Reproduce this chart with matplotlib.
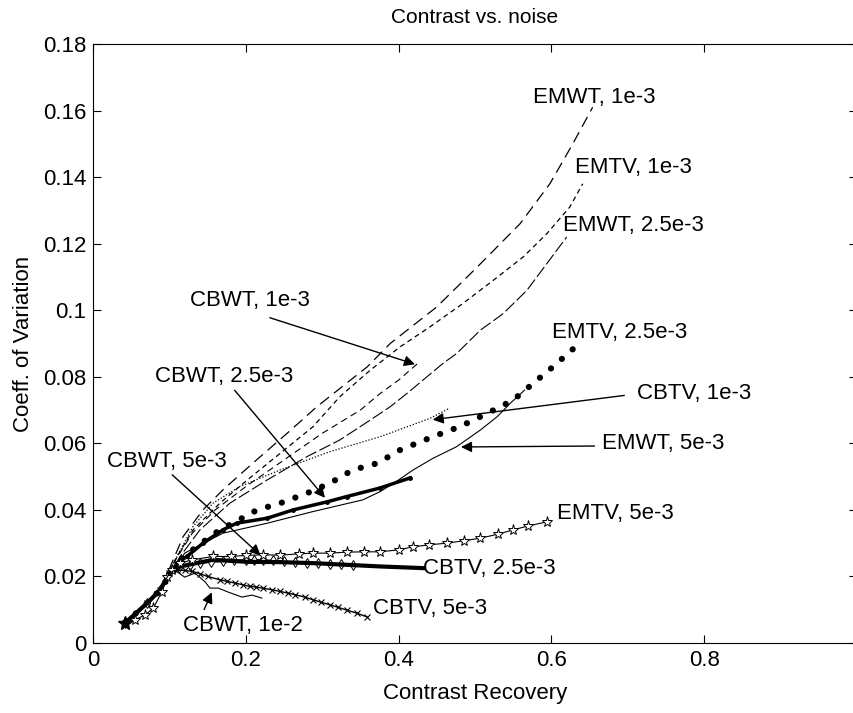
import numpy as np
import matplotlib
matplotlib.use('Agg')
import matplotlib.pyplot as plt

plt.rcParams['font.family'] = ['Liberation Sans', 'DejaVu Sans']

# curves: contrast recovery (x) vs coefficient of variation (y)
emwt_1e3_x = [0.042, 0.071, 0.088, 0.105, 0.118, 0.144, 0.170, 0.209, 0.254, 0.293, 0.359, 0.389, 0.450, 0.503, 0.559, 0.598, 0.628, 0.654]
emwt_1e3_y = [0.006, 0.012, 0.016, 0.025, 0.032, 0.040, 0.046, 0.054, 0.063, 0.071, 0.083, 0.090, 0.101, 0.113, 0.126, 0.138, 0.150, 0.161]

emtv_1e3_x = [0.042, 0.071, 0.088, 0.110, 0.131, 0.166, 0.202, 0.245, 0.288, 0.323, 0.363, 0.402, 0.441, 0.484, 0.524, 0.563, 0.594, 0.624, 0.641]
emtv_1e3_y = [0.006, 0.012, 0.016, 0.026, 0.034, 0.042, 0.049, 0.057, 0.065, 0.074, 0.082, 0.089, 0.095, 0.102, 0.109, 0.116, 0.123, 0.131, 0.138]

cbwt_1e3_x = [0.042, 0.071, 0.088, 0.108, 0.130, 0.160, 0.200, 0.250, 0.300, 0.350, 0.376, 0.400, 0.425]
cbwt_1e3_y = [0.006, 0.012, 0.016, 0.025, 0.033, 0.040, 0.047, 0.055, 0.063, 0.070, 0.075, 0.079, 0.084]

emwt_2p5e3_x = [0.042, 0.071, 0.088, 0.114, 0.140, 0.179, 0.228, 0.280, 0.323, 0.363, 0.389, 0.411, 0.458, 0.476, 0.507, 0.537, 0.568, 0.594, 0.620]
emwt_2p5e3_y = [0.006, 0.012, 0.016, 0.026, 0.034, 0.042, 0.049, 0.056, 0.061, 0.067, 0.071, 0.075, 0.084, 0.087, 0.094, 0.099, 0.106, 0.114, 0.122]

emtv_2p5e3_x = [0.042, 0.071, 0.088, 0.114, 0.136, 0.166, 0.183, 0.215, 0.245, 0.280, 0.310, 0.340, 0.372, 0.402, 0.445, 0.480, 0.516, 0.550, 0.576, 0.602, 0.634]
emtv_2p5e3_y = [0.006, 0.012, 0.016, 0.025, 0.029, 0.034, 0.036, 0.040, 0.042, 0.045, 0.048, 0.052, 0.054, 0.058, 0.062, 0.065, 0.069, 0.073, 0.078, 0.083, 0.0895]

cbtv_1e3_x = [0.042, 0.071, 0.088, 0.110, 0.131, 0.157, 0.192, 0.245, 0.310, 0.376, 0.441, 0.467]
cbtv_1e3_y = [0.006, 0.012, 0.016, 0.026, 0.035, 0.042, 0.047, 0.052, 0.0575, 0.062, 0.0675, 0.0706]

emwt_5e3_x = [0.042, 0.071, 0.088, 0.120, 0.170, 0.228, 0.288, 0.353, 0.376, 0.400, 0.419, 0.445, 0.476, 0.507, 0.529, 0.546, 0.565]
emwt_5e3_y = [0.006, 0.012, 0.016, 0.027, 0.033, 0.036, 0.0395, 0.043, 0.0455, 0.049, 0.052, 0.0555, 0.059, 0.064, 0.068, 0.072, 0.076]

cbwt_2p5e3_x = [0.042, 0.071, 0.088, 0.110, 0.123, 0.144, 0.170, 0.188, 0.228, 0.262, 0.306, 0.332, 0.376, 0.415]
cbwt_2p5e3_y = [0.006, 0.012, 0.016, 0.024, 0.026, 0.030, 0.034, 0.036, 0.0375, 0.040, 0.0424, 0.044, 0.0466, 0.0496]

emtv_5e3_x = [0.042, 0.055, 0.068, 0.079, 0.090, 0.097, 0.103, 0.114, 0.130, 0.157, 0.180, 0.200, 0.222, 0.245, 0.270, 0.288, 0.310, 0.332, 0.355, 0.376, 0.400, 0.419, 0.440, 0.463, 0.485, 0.507, 0.530, 0.550, 0.570, 0.594]
emtv_5e3_y = [0.006, 0.007, 0.0084, 0.0105, 0.0153, 0.0198, 0.022, 0.024, 0.025, 0.026, 0.026, 0.0263, 0.0265, 0.0264, 0.0268, 0.027, 0.027, 0.0273, 0.0274, 0.0274, 0.028, 0.0289, 0.0295, 0.030, 0.0307, 0.0315, 0.0327, 0.034, 0.0352, 0.0364]

cbtv_2p5e3_x = [0.042, 0.071, 0.088, 0.100, 0.114, 0.157, 0.202, 0.245, 0.288, 0.332, 0.376, 0.410, 0.432]
cbtv_2p5e3_y = [0.006, 0.012, 0.016, 0.021, 0.023, 0.025, 0.0244, 0.0243, 0.024, 0.0235, 0.023, 0.0227, 0.0225]

cbwt_5e3_x = [0.042, 0.071, 0.088, 0.100, 0.114, 0.127, 0.140, 0.155, 0.170, 0.185, 0.200, 0.211, 0.222, 0.236, 0.250, 0.265, 0.280, 0.295, 0.310, 0.325, 0.340]
cbwt_5e3_y = [0.006, 0.012, 0.016, 0.021, 0.023, 0.0235, 0.024, 0.0243, 0.0245, 0.0248, 0.025, 0.025, 0.025, 0.0248, 0.0245, 0.0243, 0.024, 0.0239, 0.0238, 0.0236, 0.0235]

cbtv_5e3_x = [0.042, 0.071, 0.088, 0.100, 0.110, 0.120, 0.130, 0.140, 0.150, 0.166, 0.176, 0.186, 0.196, 0.205, 0.214, 0.222, 0.234, 0.245, 0.255, 0.265, 0.277, 0.288, 0.299, 0.310, 0.321, 0.332, 0.345, 0.359]
cbtv_5e3_y = [0.006, 0.012, 0.016, 0.021, 0.022, 0.0218, 0.0215, 0.0208, 0.020, 0.019, 0.0185, 0.018, 0.0175, 0.017, 0.0168, 0.0165, 0.016, 0.0155, 0.015, 0.0145, 0.0138, 0.013, 0.0122, 0.0115, 0.0107, 0.0099, 0.009, 0.0078]

cbwt_1e2_x = [0.042, 0.071, 0.088, 0.100, 0.107, 0.120, 0.1335, 0.147, 0.153, 0.164, 0.177, 0.195, 0.208, 0.221]
cbwt_1e2_y = [0.006, 0.012, 0.016, 0.021, 0.0219, 0.0198, 0.0210, 0.0183, 0.0165, 0.0165, 0.0153, 0.0138, 0.0144, 0.0135]

start_x = [0.042]
start_y = [0.006]

# curve labels: text, text position, arrow tip (None = no arrow)
label_text = ['EMWT, 1e-3', 'EMTV, 1e-3', 'EMWT, 2.5e-3', 'CBWT, 1e-3', 'EMTV, 2.5e-3',
              'CBWT, 2.5e-3', 'CBTV, 1e-3', 'EMWT, 5e-3', 'CBWT, 5e-3', 'EMTV, 5e-3',
              'CBTV, 2.5e-3', 'CBTV, 5e-3', 'CBWT, 1e-2']
label_xy = [(0.576, 0.164), (0.631, 0.143), (0.615, 0.1256), (0.127, 0.103), (0.601, 0.0934),
            (0.081, 0.080), (0.712, 0.0751), (0.666, 0.060), (0.018, 0.0544), (0.607, 0.039),
            (0.432, 0.0225), (0.366, 0.0105), (0.118, 0.0054)]
arrow_from = [None, None, None, (0.228, 0.098), None,
              (0.183, 0.0766), (0.699, 0.0745), (0.660, 0.0592), (0.101, 0.0511), None,
              None, None, (0.144, 0.0093)]
arrow_to = [None, None, None, (0.425, 0.0835), None,
            (0.306, 0.043), (0.441, 0.067), (0.478, 0.0589), (0.222, 0.0258), None,
            None, None, (0.157, 0.016)]

fig = plt.figure(figsize=(8.54, 7.13), dpi=100)
ax = fig.add_axes([93/854, 1 - 643/713, (857 - 93)/854, (643 - 44)/713])

ax.plot(emwt_1e3_x, emwt_1e3_y, color='k', lw=0.9, linestyle=(0, (9, 5)))
ax.plot(emtv_1e3_x, emtv_1e3_y, color='k', lw=0.9, linestyle=(0, (4, 3)))
ax.plot(cbwt_1e3_x, cbwt_1e3_y, color='k', lw=0.8, linestyle=(0, (6, 4)))
ax.plot(emwt_2p5e3_x, emwt_2p5e3_y, color='k', lw=0.8, linestyle=(0, (11, 3)))
ax.plot(emtv_2p5e3_x, emtv_2p5e3_y, color='k', lw=4.5, linestyle=(0, (0.01, 2.3)), dash_capstyle='round')
ax.plot(cbtv_1e3_x, cbtv_1e3_y, color='k', lw=0.9, linestyle=(0, (1, 1.5)))
ax.plot(emwt_5e3_x, emwt_5e3_y, color='k', lw=0.8)
ax.plot(cbwt_2p5e3_x, cbwt_2p5e3_y, color='k', lw=2.5, marker='.', ms=5)
ax.plot(cbwt_5e3_x, cbwt_5e3_y, color='k', lw=1, marker='d', ms=5, mfc='white', mew=0.7)
ax.plot(cbtv_5e3_x, cbtv_5e3_y, color='k', lw=1, marker='x', ms=5, mew=0.8)
ax.plot(cbtv_2p5e3_x, cbtv_2p5e3_y, color='k', lw=3)
ax.plot(emtv_5e3_x, emtv_5e3_y, color='k', lw=0.8, marker='*', ms=8, mfc='white', mew=0.7)
ax.plot(cbwt_1e2_x, cbwt_1e2_y, color='k', lw=0.8)
ax.plot(start_x, start_y, color='k', marker='*', ms=10, linestyle='none')

for i in range(len(label_text)):
    ax.text(label_xy[i][0], label_xy[i][1], label_text[i], fontsize=16,
            ha='left', va='center')
    if arrow_from[i] is not None:
        ax.annotate('', xy=arrow_to[i], xytext=arrow_from[i],
                    arrowprops=dict(arrowstyle='-|>', color='k', lw=1, mutation_scale=16))

ax.set_xlim(0, 1)
ax.set_ylim(0, 0.18)
ax.set_xticks([0, 0.2, 0.4, 0.6, 0.8, 1])
ax.set_xticklabels(['0', '0.2', '0.4', '0.6', '0.8', ''])
ax.set_yticks([0, 0.02, 0.04, 0.06, 0.08, 0.1, 0.12, 0.14, 0.16, 0.18])
ax.set_yticklabels(['0', '0.02', '0.04', '0.06', '0.08', '0.1', '0.12', '0.14', '0.16', '0.18'])
ax.tick_params(direction='in', top=True, right=True, length=6, labelsize=16, pad=5)

ax.set_xlabel('Contrast Recovery', fontsize=16, labelpad=9)
ax.set_ylabel('Coeff. of Variation', fontsize=16, labelpad=6)
ax.set_title('Contrast vs. noise', fontsize=15, pad=15)

fig.savefig('out.png', dpi=100)
